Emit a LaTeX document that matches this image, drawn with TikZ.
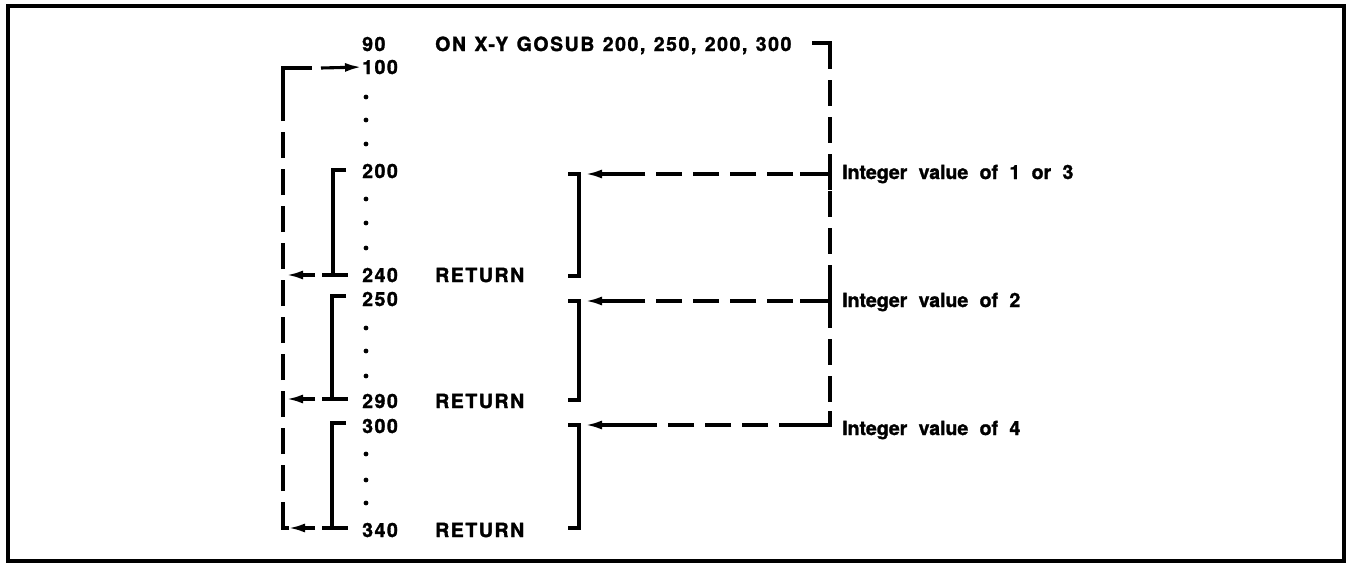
\documentclass[tikz,border=0pt]{standalone}
\usepackage{fontspec}
\setmainfont{TeX Gyre Heros}
\newfontfamily\codefont{TeX Gyre Heros}[LetterSpace=8,WordSpace=1.2,FakeBold=1.5]
\newfontfamily\lblfont{TeX Gyre Heros}[WordSpace=2.1,FakeBold=1.5]
\usetikzlibrary{arrows.meta,calc}
\tikzset{
  codetxt/.style={anchor=base west, inner sep=0pt, font=\codefont\bfseries\fontsize{19.5}{22}\selectfont},
  lbltxt/.style={anchor=base west, inner sep=0pt, font=\lblfont\bfseries\fontsize{19.5}{22}\selectfont},
  dotmark/.style={circle, fill=black, inner sep=0pt, minimum size=4.8pt},
  solidln/.style={line width=3.1pt, line join=miter},
  dashln/.style={line width=3.3pt, dash pattern=on 26pt off 11pt},
  flowarrow/.style={line width=3.1pt, -{Latex[length=17pt,width=9pt]}},
}
\begin{document}
\begin{tikzpicture}[x=1pt,y=-1pt]
\useasboundingbox (0,0) rectangle (1352,565);
% outer frame
\draw[line width=3.6pt] (8,6) rectangle (1344,561);

% program listing
\node[codetxt] (l90)  at (362,51)  {90};
\node[codetxt] (on)   at (435,51)  {ON X-Y GOSUB 200, 250, 200, 300};
\node[codetxt] (l100) at (362,74)  {100};
\node[dotmark] (d1) at (366,97) {};
\node[dotmark] (d2) at (366,120) {};
\node[dotmark] (d3) at (366,144) {};
\node[codetxt] (l200) at (362,178) {200};
\node[dotmark] (d4) at (366,199) {};
\node[dotmark] (d5) at (366,223) {};
\node[dotmark] (d6) at (366,248) {};
\node[codetxt] (l240) at (362,282) {240};
\node[codetxt] (ret1) at (435,282) {RETURN};
\node[codetxt] (l250) at (362,306) {250};
\node[dotmark] (d7) at (366,328) {};
\node[dotmark] (d8) at (366,351) {};
\node[dotmark] (d9) at (366,376) {};
\node[codetxt] (l290) at (362,408) {290};
\node[codetxt] (ret2) at (435,408) {RETURN};
\node[codetxt] (l300) at (362,433) {300};
\node[dotmark] (d10) at (366,454) {};
\node[dotmark] (d11) at (366,480) {};
\node[dotmark] (d12) at (366,503) {};
\node[codetxt] (l340) at (362,537) {340};
\node[codetxt] (ret3) at (435,537) {RETURN};

% labels of the branch values
\node[lbltxt] (v13) at (842,179) {Integer value of 1 or 3};
\node[lbltxt] (v2)  at (842,307) {Integer value of 2};
\node[lbltxt] (v4)  at (842,435) {Integer value of 4};

% right-hand subroutine brackets
\coordinate (rb1t) at (579,174); \coordinate (rb1b) at (579,276);
\coordinate (rb2t) at (579,301); \coordinate (rb2b) at (579,400);
\coordinate (rb3t) at (579,425); \coordinate (rb3b) at (579,528);
\draw[solidln] ($(rb1t)+(-11,0)$) -- (rb1t) -- (rb1b) -- ++(-11,0);
\draw[solidln] ($(rb2t)+(-11,0)$) -- (rb2t) -- (rb2b) -- ++(-11,0);
\draw[solidln] ($(rb3t)+(-11,0)$) -- (rb3t) -- (rb3b) -- ++(-11,0);

% GOSUB dispatch trunk
\coordinate (ontail) at (812,43);
\coordinate (tr) at (830,43);
\coordinate (j1) at (830,174);
\coordinate (j2) at (830,301);
\coordinate (j3) at (830,425);
\draw[solidln] (ontail) -- (tr) -- ++(0,24);
\draw[dashln] (tr) -- (j3) -- (640,425);
\draw[solidln] (j1) -- (800,174);
\draw[solidln] ($(j1)+(0,-14)$) -- ++(0,30);
\draw[solidln] (j2) -- (800,301);
\draw[solidln] ($(j2)+(0,-14)$) -- ++(0,30);
\draw[solidln] ($(j3)+(0,-14)$) -- (j3) -- (800,425);
\draw[dashln] (j1) -- (640,174);
\draw[dashln] (j2) -- (640,301);
\draw[flowarrow] (645,174) -- ($(rb1t)+(6,0)$);
\draw[flowarrow] (645,301) -- ($(rb2t)+(6,0)$);
\draw[flowarrow] (645,425) -- ($(rb3t)+(6,0)$);

% left-hand subroutine brackets
\coordinate (lb1t) at (333,170); \coordinate (lb1b) at (333,275);
\coordinate (lb2t) at (332,296); \coordinate (lb2b) at (332,399);
\coordinate (lb3t) at (332,423); \coordinate (lb3b) at (332,528);
\draw[solidln] ($(lb1t)+(13,0)$) -- (lb1t) -- (lb1b);
\draw[solidln] ($(lb1b)+(-11,0)$) -- ++(26,0);
\draw[solidln] ($(lb2t)+(14,0)$) -- (lb2t) -- (lb2b);
\draw[solidln] ($(lb2b)+(-10,0)$) -- ++(26,0);
\draw[solidln] ($(lb3t)+(14,0)$) -- (lb3t) -- (lb3b);
\draw[solidln] ($(lb3b)+(-10,0)$) -- ++(26,0);

% return trunk
\coordinate (lc) at (283,528);
\coordinate (lt) at (283,68);
\draw[flowarrow] (315,275) -- (286,275);
\draw[flowarrow] (315,399) -- (286,399);
\draw[flowarrow] (315,528) -- (288,528);
\draw[solidln] (289,528) -- (lc) -- ++(0,-16);
\draw[dashln] (lc) -- (lt);
\draw[solidln] (283,95) -- (lt) -- (312,68);
\draw[flowarrow] (321,68) -- (l100.west);
\end{tikzpicture}
\end{document}
